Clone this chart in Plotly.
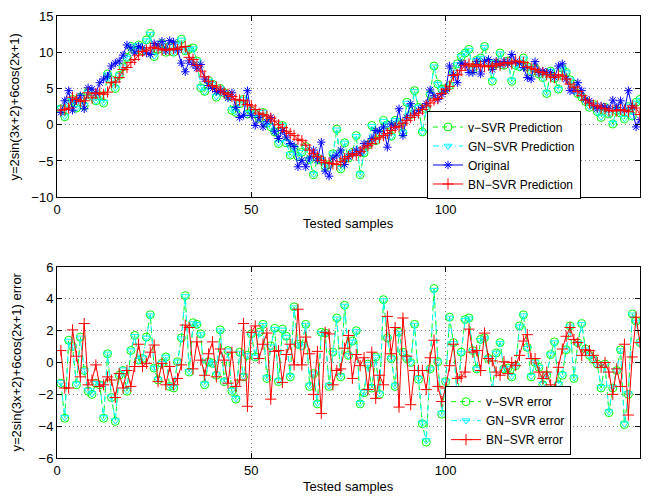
import plotly.graph_objects as go

samples = list(range(1, 151))

original = [
    1.7, 3.3, 4.7, 2.0, 3.3, 4.0, 2.2, 5.1, 4.9, 4.4,
    5.8, 6.3, 6.7, 8.1, 8.5, 8.8, 9.6, 11.0, 10.6, 9.9,
    10.8, 10.6, 9.9, 9.7, 11.2, 11.0, 11.5, 10.2, 11.6, 11.4,
    10.3, 8.5, 7.3, 8.8, 8.3, 7.8, 8.3, 6.3, 5.4, 5.0,
    4.6, 4.7, 4.4, 3.7, 4.4, 2.4, 1.0, 1.3, 4.7, 1.3,
    -0.1, 1.0, -0.3, 0.4, 1.0, -0.9, -1.9, -0.8, -1.7, -2.6,
    -3.0, -5.8, -4.9, -5.8, -4.6, -3.5, -4.9, -2.4, -6.4, -7.1,
    -4.6, -4.2, -3.5, -5.5, -4.4, -4.0, -3.5, -3.9, -2.6, -2.6,
    -1.9, -0.8, -0.9, -0.3, -3.1, 0.1, -0.3, 2.2, -1.5, 1.0,
    2.9, 1.5, 2.0, 2.4, 2.9, 4.8, 4.0, 3.5, 4.2, 4.7,
    8.1, 6.9, 5.8, 8.5, 8.3, 7.2, 7.2, 8.75, 7.0, 8.75,
    9.0, 7.6, 8.75, 8.3, 8.75, 8.4, 9.7, 8.75, 8.5, 7.9,
    6.5, 6.3, 8.7, 7.2, 7.4, 7.2, 7.2, 6.5, 8.1, 8.4,
    6.3, 4.7, 4.7, 5.8, 4.7, 3.5, 3.3, 2.6, 2.2, 2.6,
    2.4, 2.2, 3.4, 2.4, 3.3, 2.0, 4.7, 2.4, -0.3, 0.7,
]

bn_pred = [
    2.0, 2.1, 2.3, 3.8, 3.5, 3.2, 3.3, 4.4, 3.7, 4.3,
    4.4, 4.2, 4.5, 5.8, 5.9, 6.5, 7.6, 7.9, 8.6, 9.0,
    9.6, 10.1, 10.3, 10.6, 10.7, 10.5, 10.3, 10.4, 10.3, 10.5,
    10.4, 10.7, 10.8, 9.3, 9.0, 8.2, 7.4, 6.6, 6.0, 5.4,
    5.2, 4.8, 4.4, 4.2, 3.9, 3.5, 3.4, 3.3, 2.8, 2.6,
    2.1, 1.6, 1.4, 1.2, 0.9, 0.5, 0.0, -0.4, -0.9, -1.2,
    -1.5, -2.0, -2.2, -2.8, -3.5, -4.0, -4.4, -4.9, -5.2, -5.3,
    -5.4, -5.5, -5.1, -4.7, -4.4, -4.0, -4.2, -3.7, -3.2, -2.9,
    -2.6, -2.0, -1.8, -1.5, -1.2, -0.8, -0.4, -0.2, 0.2, 0.6,
    1.0, 1.3, 1.6, 2.1, 2.6, 3.0, 3.4, 3.6, 4.3, 4.9,
    5.3, 6.8, 6.9, 7.5, 8.2, 8.4, 8.0, 8.3, 8.1, 8.0,
    8.2, 8.0, 8.4, 8.2, 8.5, 8.6, 8.4, 8.8, 8.7, 8.6,
    8.0, 7.8, 7.6, 7.3, 7.2, 6.9, 6.6, 6.5, 6.9, 6.7,
    6.3, 5.6, 5.2, 4.6, 4.0, 3.4, 3.0, 2.7, 2.6, 2.3,
    2.2, 1.9, 2.0, 1.9, 2.1, 2.0, 1.8, 2.6, 2.3, 1.4,
]

v_pred = [
    2.2, 1.1, 2.9, 3.5, 2.3, 3.8, 2.6, 4.5, 3.9, 3.3,
    4.0, 3.0, 7.0, 6.2, 5.0, 6.8, 8.0, 9.3, 10.8, 10.3,
    11.0, 10.2, 11.7, 12.6, 9.4, 10.4, 11.2, 10.0, 10.8, 10.0,
    11.0, 11.8, 10.2, 10.4, 10.6, 8.8, 5.1, 4.6, 6.1, 5.6,
    3.8, 5.0, 4.4, 4.0, 2.0, 1.7, 2.9, 3.5, 1.5, 1.9,
    1.5, 0.9, 1.7, 0.2, -0.3, -1.0, -2.6, -0.1, -2.5, -4.2,
    -3.2, -4.4, -3.8, -3.0, -4.8, -6.9, -4.6, -4.9, -5.8, -5.5,
    -4.0, -0.6, -6.1, -2.5, -4.6, -3.8, -1.5, -6.9, -3.9, -2.8,
    -0.1, -2.2, -1.2, 0.6, 0.0, -1.6, 0.6, 0.3, -1.1, 3.1,
    1.4, 4.7, 2.4, -1.0, 2.2, 4.2, 8.1, 5.6, 4.9, 5.0,
    5.4, 7.3, 8.4, 9.4, 9.9, 10.4, 7.6, 8.9, 9.2, 10.8,
    8.6, 6.0, 8.4, 9.9, 8.2, 8.8, 6.0, 8.2, 8.0, 9.2,
    8.0, 7.3, 7.8, 7.0, 6.5, 4.3, 7.4, 6.4, 4.9, 7.8,
    7.2, 6.2, 5.6, 4.3, 3.8, 3.2, 2.4, 2.8, 1.8, 1.0,
    2.4, 1.5, 0.1, 2.0, 1.6, 0.8, 2.5, 1.2, 3.1, 3.5,
]

gn_pred = [
    2.3, 1.2, 2.9, 3.4, 2.3, 3.8, 2.7, 4.5, 3.8, 3.3,
    4.0, 3.1, 6.9, 6.2, 5.1, 6.8, 8.0, 9.2, 10.8, 10.3,
    11.0, 10.3, 11.6, 12.5, 9.5, 10.4, 11.2, 10.1, 10.8, 10.0,
    11.0, 11.7, 10.2, 10.4, 10.5, 8.8, 5.2, 4.6, 6.0, 5.6,
    3.9, 5.0, 4.4, 4.0, 2.1, 1.8, 2.9, 3.5, 1.6, 1.9,
    1.5, 1.0, 1.7, 0.2, -0.2, -1.0, -2.5, -0.1, -2.4, -4.1,
    -3.2, -4.3, -3.8, -3.1, -4.8, -6.8, -4.6, -4.9, -5.7, -5.5,
    -4.0, -0.7, -6.0, -2.5, -4.6, -3.8, -1.6, -6.8, -3.9, -2.8,
    -0.2, -2.2, -1.2, 0.5, 0.0, -1.6, 0.6, 0.3, -1.1, 3.0,
    1.4, 4.6, 2.4, -1.0, 2.2, 4.2, 8.0, 5.6, 4.9, 5.0,
    5.4, 7.3, 8.3, 9.4, 9.9, 10.3, 7.6, 8.9, 9.2, 10.7,
    8.6, 6.1, 8.4, 9.8, 8.2, 8.8, 6.1, 8.2, 8.0, 9.1,
    8.0, 7.3, 7.8, 7.0, 6.5, 4.4, 7.4, 6.4, 4.9, 7.7,
    7.2, 6.2, 5.6, 4.3, 3.8, 3.2, 2.5, 2.8, 1.8, 1.1,
    2.4, 1.5, 0.2, 2.0, 1.6, 0.9, 2.5, 1.2, 3.0, 3.4,
]

v_err = [
    -1.3, -3.5, 1.4, 1.0, -1.4, 1.6, -0.5, -1.8, -2.0, -1.3,
    -1.4, -3.5, 0.55, -2.2, -3.7, -0.8, -0.5, -1.8, 0.75, 1.7,
    0.15, 0.25, 1.6, 3.0, -0.35, -1.1, -0.05, 0.35, -1.5, -1.6,
    0.05, 1.55, 4.2, -0.6, 2.5, 2.4, 1.8, -1.4, 0.05, -0.05,
    -0.8, 2.05, -1.2, 0.75, -1.8, -2.3, 0.65, -0.9, 0.45, 1.8,
    0.35, 1.9, 2.4, -1.0, 1.05, 2.15, -1.2, 2.1, 1.65, -0.9,
    3.5, 1.15, 1.05, 2.4, -1.5, -0.7, -2.6, 1.9, 1.85, -1.5,
    0.65, 2.8, -0.9, 3.6, 0.45, 1.35, 2.0, -2.6, -1.9, -0.1,
    -1.6, 0.35, -2.0, 3.95, 1.55, 0.25, -1.5, 1.9, 0.65, 0.25,
    0.0, 2.4, -1.05, -3.85, -5.0, -0.4, 4.65, 0.05, -3.25, -1.2,
    2.85, 1.25, -2.4, 0.65, 2.7, 2.8, 0.75, -0.4, 1.45, 1.55,
    0.25, -1.85, 0.6, 1.25, -0.4, -0.35, -0.9, -0.2, 2.3, 3.0,
    0.95, -0.9, 0.0, -0.3, -1.4, -0.8, 0.5, 1.3, -1.4, -0.8,
    0.8, 2.3, -1.0, 1.25, 2.45, 0.85, 0.45, 0.2, -0.1, -1.6,
    -0.1, -3.15, -1.6, -0.5, 0.8, -3.9, -2.0, 3.05, 2.6, 1.25,
]

gn_err = [
    -1.25, -3.45, 1.35, 1.0, -1.35, 1.55, -0.5, -1.75, -1.95, -1.3,
    -1.35, -3.45, 0.55, -2.15, -3.65, -0.8, -0.45, -1.75, 0.75, 1.65,
    0.15, 0.3, 1.55, 2.95, -0.35, -1.05, -0.05, 0.35, -1.45, -1.55,
    0.05, 1.5, 4.15, -0.55, 2.45, 2.4, 1.75, -1.35, 0.05, -0.05,
    -0.75, 2.0, -1.15, 0.75, -1.75, -2.25, 0.6, -0.85, 0.45, 1.75,
    0.35, 1.85, 2.35, -0.95, 1.0, 2.1, -1.15, 2.05, 1.6, -0.85,
    3.45, 1.1, 1.0, 2.35, -1.45, -0.7, -2.55, 1.85, 1.8, -1.45,
    0.6, 2.75, -0.85, 3.55, 0.45, 1.3, 1.95, -2.55, -1.85, -0.1,
    -1.55, 0.35, -1.95, 3.9, 1.5, 0.25, -1.45, 1.85, 0.6, 0.25,
    0.0, 2.35, -1.0, -3.8, -4.9, -0.4, 4.55, 0.05, -3.2, -1.15,
    2.8, 1.2, -2.35, 0.6, 2.65, 2.75, 0.7, -0.4, 1.4, 1.5,
    0.25, -1.8, 0.6, 1.2, -0.4, -0.35, -0.85, -0.2, 2.25, 2.95,
    0.9, -0.85, 0.0, -0.3, -1.35, -0.75, 0.5, 1.25, -1.35, -0.75,
    0.8, 2.25, -0.95, 1.2, 2.4, 0.8, 0.45, 0.2, -0.1, -1.55,
    -0.1, -3.1, -1.55, -0.5, 0.75, -3.85, -1.95, 3.0, 2.55, 1.2,
]

bn_err = [
    0.75, -1.6, -1.6, 2.05, 0.4, -0.9, 2.45, -1.4, -1.1, -0.15,
    -1.5, -1.4, -0.9, -1.1, -2.2, -0.7, -1.6, -0.5, -1.5, -0.25,
    1.15, -0.25, -0.05, 0.65, 1.1, -1.2, -0.05, -1.4, -0.25, -1.4,
    -1.0, -0.15, 2.35, 2.2, -0.4, 1.3, 0.15, -0.8, 0.55, 1.3,
    -0.9, 0.85, 0.15, -1.3, 0.65, -1.5, -1.1, 2.45, -2.75, 1.9,
    2.3, 0.25, 1.15, 1.85, -2.3, 0.7, 0.75, -1.25, 0.5, 1.15,
    -0.15, 3.35, -0.15, 1.6, 0.55, -2.0, 0.7, -3.2, 1.9, 1.8,
    -1.4, -0.5, -0.4, 0.9, 1.7, -1.0, 0.5, -0.2, 0.3, -1.7,
    0.65, -2.25, -0.8, -1.4, 2.9, 0.55, 2.2, -2.8, 2.8, 0.4,
    -2.65, -0.5, -0.5, -0.5, -1.7, 0.3, 1.4, -1.5, -2.45, -1.6,
    -0.2, 1.15, -1.0, -0.9, -0.6, 2.1, 0.65, 0.75, -0.5, 1.85,
    0.25, 0.1, -0.6, -0.8, 0.05, -0.7, 0.0, -0.2, 0.45, 1.35,
    1.75, 0.25, 0.25, -0.6, -1.0, -0.6, -1.4, -1.8, -0.3, 0.85,
    1.65, 2.2, 1.45, 1.25, 0.45, 0.8, 0.75, 0.45, 0.0, -0.3,
    0.0, -0.6, -2.0, -0.4, -1.5, 1.15, -3.3, 0.35, 2.85, 1.25,
]

x_ticks = [0, 50, 100, 150]
top_y_ticks = [-10, -5, 0, 5, 10, 15]
bottom_y_ticks = [-6, -4, -2, 0, 2, 4, 6]

FONT = "Liberation Sans, Arial, Helvetica, sans-serif"
GREEN = "#00ff00"
CYAN = "#00ffff"
BLUE = "#0000ff"
RED = "#ff0000"

fig = go.Figure()


def add(y, name, color, dash, symbol, size, xa, ya, legend):
    fig.add_trace(go.Scatter(
        x=samples, y=y, name=name, mode="lines+markers",
        line=dict(color=color, width=1, dash=dash),
        marker=dict(symbol=symbol, size=size, color=color,
                    line=dict(color=color, width=1)),
        xaxis=xa, yaxis=ya, legend=legend,
    ))


add(v_pred, "v\u2212SVR Prediction", GREEN, "5px,4px", "circle-open", 8, "x", "y", "legend")
add(gn_pred, "GN\u2212SVR Prediction", CYAN, "6px,3px,1px,3px", "triangle-down-open", 7, "x", "y", "legend")
add(original, "Original", BLUE, "solid", "asterisk-open", 7, "x", "y", "legend")
add(bn_pred, "BN\u2212SVR Prediction", RED, "solid", "cross-thin-open", 8, "x", "y", "legend")

add(v_err, "v\u2212SVR error", GREEN, "5px,4px", "circle-open", 8, "x2", "y2", "legend2")
add(gn_err, "GN\u2212SVR error", CYAN, "6px,3px,1px,3px", "triangle-down-open", 7, "x2", "y2", "legend2")
add(bn_err, "BN\u2212SVR error", RED, "solid", "cross-thin-open", 8, "x2", "y2", "legend2")

axis_style = dict(
    showline=True, linecolor="black", linewidth=1, mirror="ticks",
    ticks="inside", ticklen=5, tickcolor="black", tickwidth=1,
    showgrid=True, gridcolor="#888888", griddash="1px,3px", gridwidth=1,
    zeroline=False, tickfont=dict(family=FONT, size=13, color="black"),
)

top_dom = [0.590, 1.0]
bot_dom = [0.0, 0.432]

fig.update_layout(
    width=650, height=498,
    margin=dict(l=57, r=10, t=9, b=40),
    paper_bgcolor="white", plot_bgcolor="white",
    font=dict(family=FONT, size=13, color="black"),
    xaxis=dict(domain=[0, 1], anchor="y", range=[0, 150], tickvals=x_ticks, **axis_style),
    yaxis=dict(domain=top_dom, anchor="x", range=[-10, 15], tickvals=top_y_ticks, **axis_style),
    xaxis2=dict(domain=[0, 1], anchor="y2", range=[0, 150], tickvals=x_ticks, **axis_style),
    yaxis2=dict(domain=bot_dom, anchor="x2", range=[-6, 6], tickvals=bottom_y_ticks, **axis_style),
    legend=dict(
        x=(427 - 57) / 583, y=(458 - 106) / 449, xanchor="left", yanchor="top",
        bgcolor="white", bordercolor="black", borderwidth=1,
        font=dict(family=FONT, size=12, color="black"), tracegroupgap=0,
    ),
    legend2=dict(
        x=(445 - 57) / 583, y=(458 - 385) / 449, xanchor="left", yanchor="top",
        bgcolor="white", bordercolor="black", borderwidth=1,
        font=dict(family=FONT, size=12, color="black"), tracegroupgap=0,
    ),
    showlegend=True,
    annotations=[
        dict(text="Tested samples", xref="paper", yref="paper", x=0.5, y=(458 - 220) / 449,
             xanchor="center", yanchor="middle", showarrow=False, font=dict(size=13)),
        dict(text="Tested samples", xref="paper", yref="paper", x=0.5, y=(458 - 487) / 449,
             xanchor="center", yanchor="middle", showarrow=False, font=dict(size=13)),
        dict(text="y=2sin(3x+2)+6cos(2x+1)", xref="paper", yref="paper",
             x=(15 - 57) / 583, y=sum(top_dom) / 2, textangle=-90,
             xanchor="center", yanchor="middle", showarrow=False, font=dict(size=13)),
        dict(text="y=2sin(3x+2)+6cos(2x+1) error", xref="paper", yref="paper",
             x=(17 - 57) / 583, y=sum(bot_dom) / 2, textangle=-90,
             xanchor="center", yanchor="middle", showarrow=False, font=dict(size=13)),
    ],
)

fig.write_html("out.html", config={"displayModeBar": False},
               post_script="document.body.style.margin='0';")
